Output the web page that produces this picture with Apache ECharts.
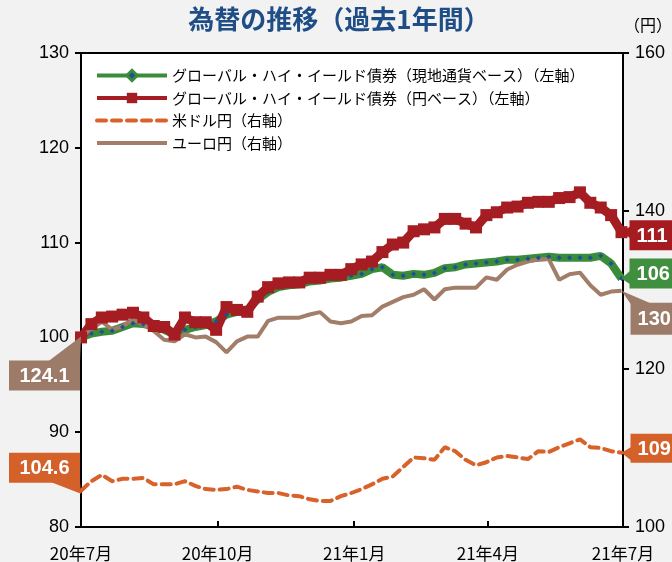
<!DOCTYPE html>
<html><head><meta charset="utf-8">
<script src="https://cdn.jsdelivr.net/npm/echarts@6/dist/echarts.min.js"></script>
<style>html,body{margin:0;padding:0;background:#f2f2f2;}#c{width:672px;height:562px;}</style>
</head><body><div id="c"></div>
<script>
// ---- data (weekly readings) ----
const dates = ['2020-07-01','2020-07-08','2020-07-15','2020-07-22','2020-07-29','2020-08-05','2020-08-12','2020-08-19','2020-08-26','2020-09-02','2020-09-09','2020-09-16','2020-09-23','2020-09-30','2020-10-07','2020-10-14','2020-10-21','2020-10-28','2020-11-04','2020-11-11','2020-11-18','2020-11-25','2020-12-02','2020-12-09','2020-12-16','2020-12-23','2020-12-30','2021-01-06','2021-01-13','2021-01-20','2021-01-27','2021-02-03','2021-02-10','2021-02-17','2021-02-24','2021-03-03','2021-03-10','2021-03-17','2021-03-24','2021-03-31','2021-04-07','2021-04-14','2021-04-21','2021-04-28','2021-05-05','2021-05-12','2021-05-19','2021-05-26','2021-06-02','2021-06-09','2021-06-16','2021-06-23','2021-06-30'];
const hyLocal = [100.0,100.4,100.6,100.7,101.1,101.5,101.4,101.2,100.8,100.3,100.8,101.1,101.3,101.7,102.4,102.7,102.9,104.0,104.8,105.3,105.5,105.6,105.9,106.0,106.2,106.3,106.5,106.7,107.2,107.4,106.6,106.5,106.7,106.6,106.8,107.3,107.4,107.7,107.8,107.9,108.0,108.2,108.2,108.3,108.4,108.5,108.4,108.4,108.4,108.4,108.6,107.8,106.2];
const hyYen = [100.0,101.4,102.1,102.2,102.4,102.6,102.1,101.2,101.1,100.3,102.1,101.6,101.6,100.8,103.2,102.9,102.7,104.3,105.3,105.7,105.8,105.8,106.3,106.3,106.6,106.6,107.2,107.7,108.0,109.0,109.8,110.0,111.2,111.4,111.6,112.5,112.5,112.0,111.6,112.9,113.2,113.7,113.8,114.2,114.3,114.3,114.7,114.8,115.3,114.2,113.7,112.9,111.1];
const usdjpy = [104.6,105.8,106.6,105.8,106.1,106.1,106.2,105.4,105.4,105.4,105.8,105.2,104.8,104.7,104.8,105.1,104.7,104.5,104.3,104.3,104.0,103.9,103.5,103.3,103.3,103.9,104.3,104.8,105.4,106.1,106.4,107.6,108.8,108.7,108.5,110.1,109.6,108.5,107.8,108.2,108.8,109.0,108.8,108.6,109.6,109.5,110.1,110.6,111.1,110.1,110.0,109.6,109.4];
const eurjpy = [124.1,125.0,126.0,125.0,125.4,126.3,125.6,124.8,123.7,123.5,124.4,124.0,124.1,123.4,122.1,123.5,124.1,124.1,126.1,126.5,126.5,126.5,126.9,127.2,126.0,125.8,126.0,126.7,126.8,127.9,128.5,129.1,129.4,130.1,128.8,130.1,130.3,130.3,130.3,131.6,131.3,132.6,133.2,133.6,133.9,133.9,131.3,132.0,132.2,130.6,129.4,129.8,129.9];
const seriesNames = ['グローバル・ハイ・イールド債券（現地通貨ベース）（左軸）','グローバル・ハイ・イールド債券（円ベース）（左軸）','米ドル円（右軸）','ユーロ円（右軸）'];
const tickDates = ['2020-07-01','2020-10-01','2021-01-01','2021-04-01','2021-07-01'];
const leftTicks = [80, 130, 10];
const rightTicks = [100, 160, 20];

// ---- chart ----
const num = '"Liberation Sans Narrow", "Liberation Sans", Arial, sans-serif';
const jp = '"Noto Sans CJK JP", sans-serif';
const C = {green:'#3a8c3a', blue:'#1f4e9a', red:'#a51d22', orange:'#d8622a', brown:'#a27e6a',
           boxBrown:'#9c7b69', boxOrange:'#d4602a', boxRed:'#a61b20', boxGreen:'#3f8f3f'};
function toDate(s){const p=s.split('-');return Date.UTC(+p[0],+p[1]-1,+p[2]);}
const t0 = toDate(tickDates[0]);
function dayNo(s){return Math.round((toDate(s)-t0)/86400000);}
function pairs(arr){return dates.map((d,i)=>[dayNo(d),arr[i]]);}
const last = dates.length-1;
const tickDays = tickDates.map(dayNo);
function tickLabel(v){const i=tickDays.indexOf(Math.round(v)); if(i<0) return ''; const p=tickDates[i].split('-'); return p[0].slice(2)+'年'+(+p[1])+'月';}

function callout(yAxisIndex, idx, arr, text, color, box, wedge, align){
  return {
    type:'custom', xAxisIndex:0, yAxisIndex, clip:false, silent:true, z:20,
    data:[[dayNo(dates[idx]), arr[idx]]],
    renderItem(params, api){
      const p = api.coord([api.value(0), api.value(1)]);
      const [x0,y0,x1,y1] = box;
      return {type:'group', children:[
        {type:'polygon', shape:{points:wedge.map(w=>[p[0]+w[0],p[1]+w[1]])}, style:{fill:color}},
        {type:'rect', shape:{x:p[0]+x0,y:p[1]+y0,width:x1-x0,height:y1-y0}, style:{fill:color}},
        {type:'text', style:{text, x: align==='left' ? p[0]+x0+7 : p[0]+(x0+x1)/2, y:p[1]+(y0+y1)/2+1,
          fill:'#fff', font:'bold 20px "Liberation Sans", Arial, sans-serif', align, verticalAlign:'middle'}}
      ]};
    }
  };
}

const axisLineStyle = {show:true, lineStyle:{color:'#000', width:2}};
const chart = echarts.init(document.getElementById('c'));
chart.setOption({
  animation:false,
  backgroundColor:'#f2f2f2',
  title:{text:'為替の推移（過去1年間）', left:334, textAlign:'center', top:1,
    textStyle:{fontSize:26, fontWeight:'bold', color:'#1f4e86', fontFamily:jp}},
  graphic:[{type:'text', right:0, top:17, style:{text:'（円）', font:'16px "Noto Sans CJK JP", sans-serif', fill:'#000'}}],
  grid:{left:81, right:49, top:53, bottom:34, show:true, backgroundColor:'#fff', borderColor:'#000', borderWidth:2},
  legend:{orient:'vertical', left:90, top:63, itemWidth:70, itemHeight:13, itemGap:7.5,
    textStyle:{fontSize:15, fontFamily:jp, color:'#000'},
    data:[
      {name:seriesNames[0], lineStyle:{width:4}, itemStyle:{color:C.blue, borderColor:C.green, borderWidth:3}},
      {name:seriesNames[1], lineStyle:{width:4}},
      {name:seriesNames[2], lineStyle:{width:4}, itemStyle:{color:'rgba(0,0,0,0)', borderWidth:0, opacity:0}},
      {name:seriesNames[3], lineStyle:{width:4}, itemStyle:{color:'rgba(0,0,0,0)', borderWidth:0, opacity:0}}
    ]},
  xAxis:{type:'value', min:tickDays[0], max:tickDays[tickDays.length-1],
    axisLine:axisLineStyle,
    axisTick:{show:true, inside:true, length:6, customValues:tickDays, lineStyle:{color:'#000', width:2}},
    axisLabel:{customValues:tickDays, margin:18, fontSize:17, fontFamily:jp, color:'#000', formatter:tickLabel},
    splitLine:{show:false}},
  yAxis:[
    {type:'value', min:leftTicks[0], max:leftTicks[1], interval:leftTicks[2], position:'left',
      axisLine:axisLineStyle, axisTick:{show:true, length:6, lineStyle:{color:'#000', width:2}},
      axisLabel:{fontSize:18, fontFamily:num, color:'#000', margin:12}, splitLine:{show:false}},
    {type:'value', min:rightTicks[0], max:rightTicks[1], interval:rightTicks[2], position:'right',
      axisLine:axisLineStyle, axisTick:{show:true, length:6, lineStyle:{color:'#000', width:2}},
      axisLabel:{fontSize:18, fontFamily:num, color:'#000', margin:12}, splitLine:{show:false}}
  ],
  series:[
    {name:seriesNames[0], type:'line', yAxisIndex:0, data:pairs(hyLocal), symbol:'diamond', symbolSize:5, showAllSymbol:true,
      itemStyle:{color:C.blue}, lineStyle:{color:C.green, width:8}},
    {name:seriesNames[1], type:'line', yAxisIndex:0, data:pairs(hyYen), symbol:'rect', symbolSize:12, showAllSymbol:true,
      itemStyle:{color:C.red}, lineStyle:{color:C.red, width:9}},
    {name:seriesNames[2], type:'line', yAxisIndex:1, data:pairs(usdjpy), symbol:'none',
      itemStyle:{color:C.orange}, lineStyle:{color:C.orange, width:4, type:[9,6], cap:'round'}},
    {name:seriesNames[3], type:'line', yAxisIndex:1, data:pairs(eurjpy), symbol:'none',
      itemStyle:{color:C.brown}, lineStyle:{color:C.brown, width:4}},
    callout(1, 0, eurjpy, eurjpy[0].toFixed(1), C.boxBrown, [-72,24,-1,54], [[0,0],[-33,25],[-1,25]], 'center'),
    callout(1, 0, usdjpy, usdjpy[0].toFixed(1), C.boxOrange, [-72,-38,-1,-8], [[0,3],[-31,-9],[-1,-9]], 'center'),
    callout(0, last, hyYen, String(Math.round(hyYen[last])), C.boxRed, [8,-12,70,18], [[0,0],[9,-6],[9,6]], 'left'),
    callout(0, last, hyLocal, String(Math.round(hyLocal[last])), C.boxGreen, [8,-20,70,10], [[0,0],[9,-8],[9,6]], 'left'),
    callout(1, last, eurjpy, String(Math.round(eurjpy[last])), C.boxBrown, [9,12,70,44], [[0,0],[9,13],[30,13]], 'left'),
    callout(1, last, usdjpy, String(Math.round(usdjpy[last])), C.boxOrange, [9,-19,70,10], [[0,0],[10,-6],[10,8]], 'left')
  ]
});
</script></body></html>
